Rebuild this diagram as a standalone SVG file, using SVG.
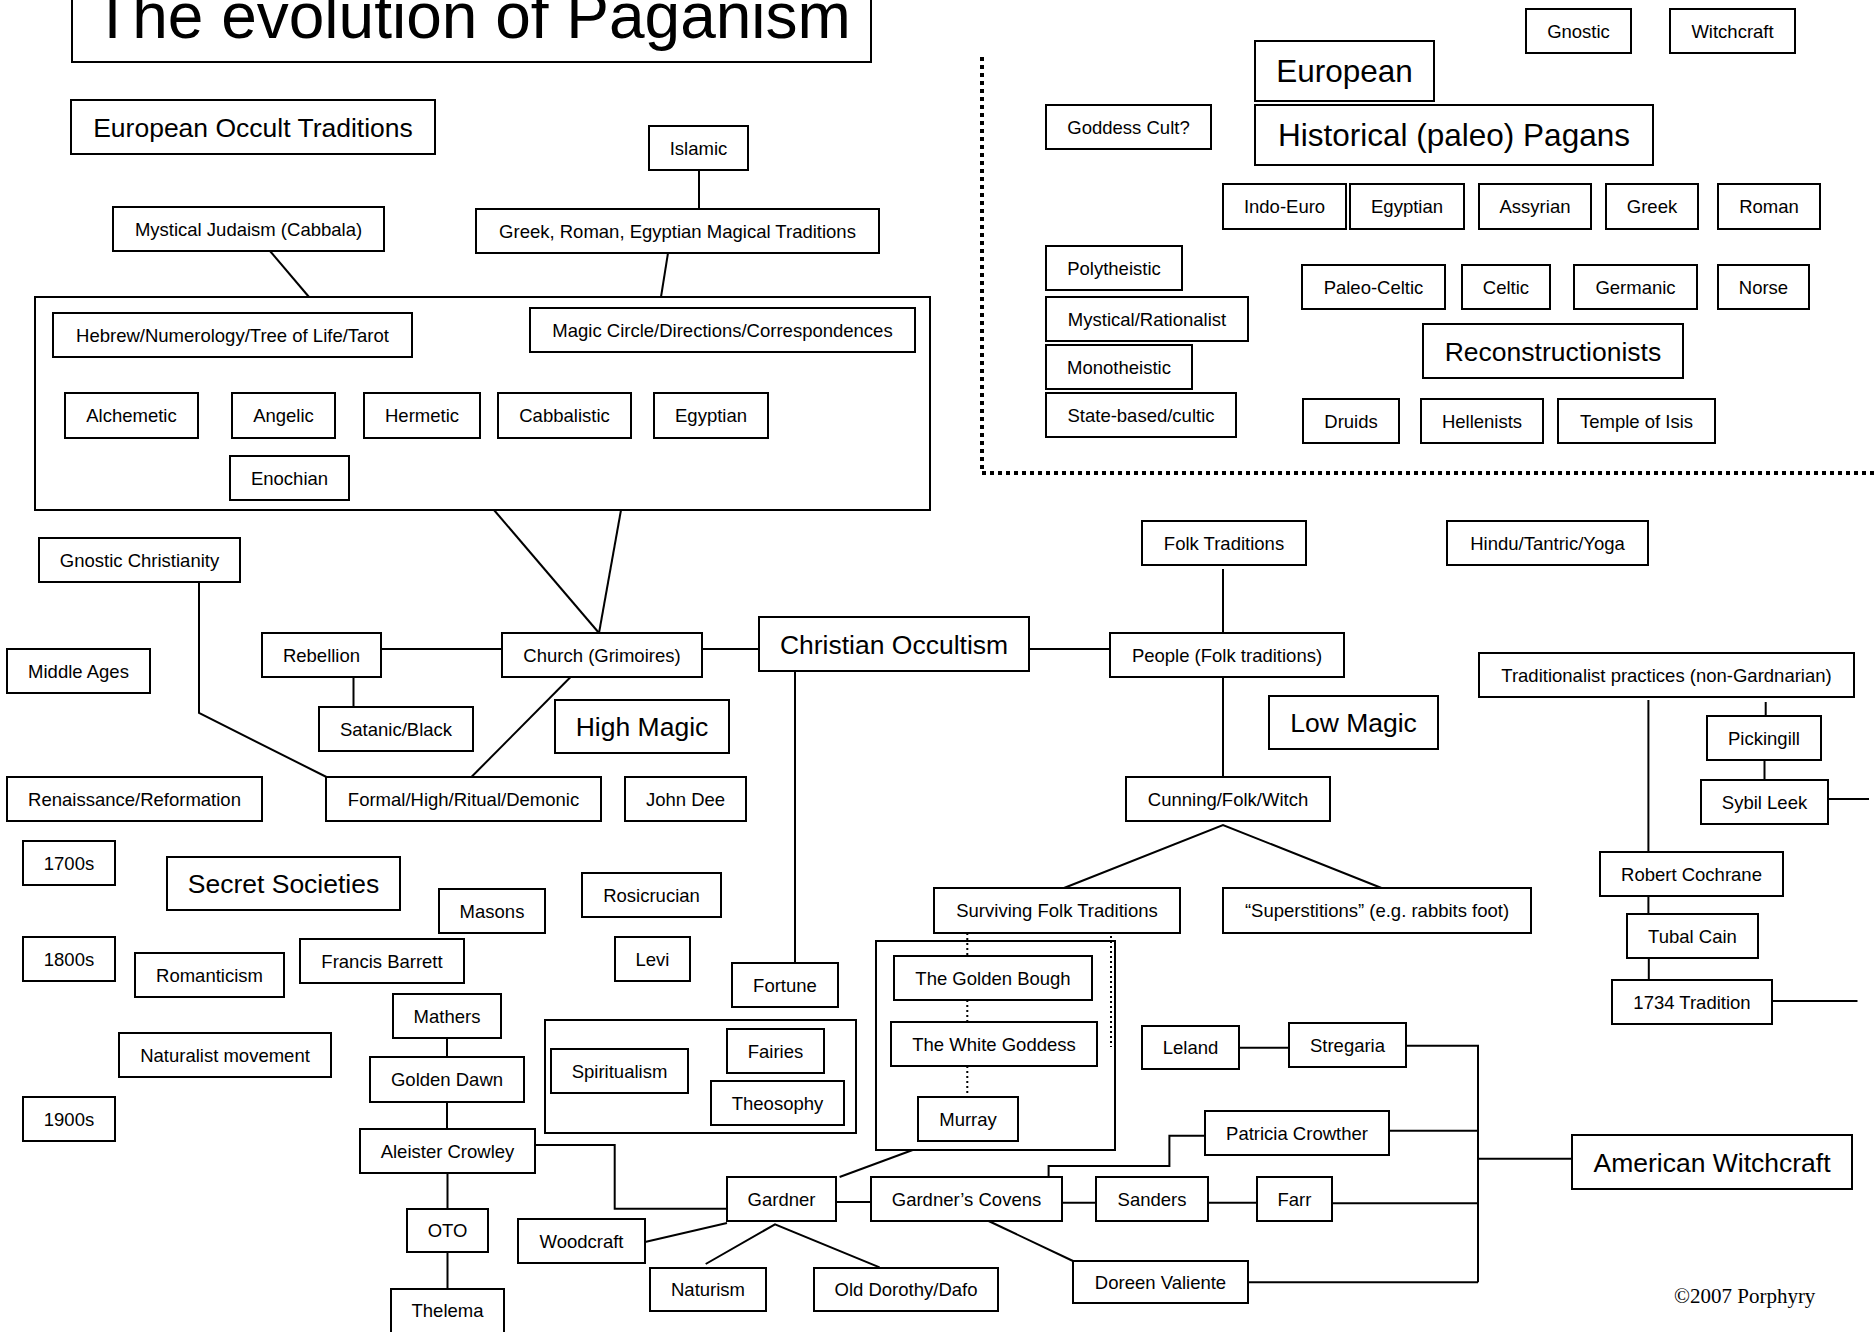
<svg xmlns="http://www.w3.org/2000/svg" width="1874" height="1332" viewBox="0 0 1874 1332">
<style>
.b{fill:#fff;stroke:#000;stroke-width:2}
.ct{fill:none;stroke:#000;stroke-width:2}
text{font-family:"Liberation Sans",Arial,sans-serif;fill:#000;text-anchor:middle}
.s{font-size:18.5px}
.m{font-size:26.5px}
.l{font-size:31.5px}
.c{fill:none;stroke:#000;stroke-width:2}
.dot{fill:none;stroke:#000;stroke-width:4;stroke-dasharray:4 4}
.dot2{fill:none;stroke:#000;stroke-width:2;stroke-dasharray:2 3}
</style>
<rect x="0" y="0" width="1874" height="1332" fill="#fff"/>
<path class="dot" d="M982,57 V473 H1874"/>
<g id="connectors">
<path class="c" d="M699,170 V209"/>
<path class="c" d="M668,253 L661,297"/>
<path class="c" d="M270,251 L309,297"/>
<path class="c" d="M494,510 L599,633"/>
<path class="c" d="M621,510 L599,633"/>
<path class="c" d="M381,649 H502"/>
<path class="c" d="M353.5,677 V707"/>
<path class="c" d="M199,582 V713 L326.5,777"/>
<path class="c" d="M570.6,677 L471.4,777"/>
<path class="c" d="M702,649 H759"/>
<path class="c" d="M1029,649 H1110"/>
<path class="c" d="M1223,569 V633"/>
<path class="c" d="M1223,677 V777"/>
<path class="c" d="M795,671 V963"/>
<path class="c" d="M1064,888 L1223,825 L1381.5,888"/>
<path class="c" d="M1648.4,700 V852"/>
<path class="c" d="M1765.7,702 V716"/>
<path class="c" d="M1764.5,760 V780"/>
<path class="c" d="M1828,799 H1869"/>
<path class="c" d="M1648.4,896 V914"/>
<path class="c" d="M1648.8,958 V980"/>
<path class="c" d="M1772,1001 H1857.5"/>
<path class="c" d="M447,1038 V1057"/>
<path class="c" d="M447,1102 V1129"/>
<path class="c" d="M535.5,1145 H614.7 V1208.7 H727"/>
<path class="c" d="M447.5,1173 V1209"/>
<path class="c" d="M447.5,1252 V1289"/>
<path class="c" d="M645,1242 L727,1223"/>
<path class="c" d="M912.7,1150 L839.6,1177"/>
<path class="c" d="M836,1202 H871"/>
<path class="c" d="M1062,1202.7 H1096"/>
<path class="c" d="M1208,1202.7 H1257"/>
<path class="c" d="M1048.6,1177 V1166 H1169.4 V1135.7 H1205"/>
<path class="c" d="M988.6,1221 L1073,1261"/>
<path class="c" d="M705.7,1264 L775,1224.3 L879.6,1267.3"/>
<path class="c" d="M1239,1047.7 H1289"/>
<path class="c" d="M1406,1045.7 H1478 V1282.3"/>
<path class="c" d="M1389,1130.7 H1478"/>
<path class="c" d="M1478,1158.7 H1572"/>
<path class="c" d="M1332,1203.3 H1478"/>
<path class="c" d="M1248,1282.3 H1478"/>
<path class="dot2" d="M967.3,933 V956 M967.3,1000 V1022 M967.3,1066 V1097"/>
<path class="dot2" d="M1111,936 V1047"/>
</g>
<g id="title"><rect class="b" x="72" y="-10" width="799" height="72"/><text x="472" y="38" style="font-size:64px">The evolution of Paganism</text></g>
<g id="eot"><rect class="b" x="71" y="100" width="364" height="54"/><text class="m" x="253" y="136.5">European Occult Traditions</text></g>
<g id="mystical"><rect class="b" x="113" y="207" width="271" height="44"/><text class="s" x="248.5" y="235.5">Mystical Judaism (Cabbala)</text></g>
<g id="greek"><rect class="b" x="476" y="209" width="403" height="44"/><text class="s" x="677.5" y="237.5">Greek, Roman, Egyptian Magical Traditions</text></g>
<g id="islamic"><rect class="b" x="649" y="126" width="99" height="44"/><text class="s" x="698.5" y="154.5">Islamic</text></g>
<g id="bigbox"><rect class="b" x="35" y="297" width="895" height="213"/></g>
<g id="hebrew"><rect class="b" x="53" y="313" width="359" height="44"/><text class="s" x="232.5" y="341.5">Hebrew/Numerology/Tree of Life/Tarot</text></g>
<g id="magic"><rect class="b" x="530" y="308" width="385" height="44"/><text class="s" x="722.5" y="336.5">Magic Circle/Directions/Correspondences</text></g>
<g id="alchemetic"><rect class="b" x="65" y="393" width="133" height="45"/><text class="s" x="131.5" y="422">Alchemetic</text></g>
<g id="angelic"><rect class="b" x="232" y="393" width="103" height="45"/><text class="s" x="283.5" y="422">Angelic</text></g>
<g id="hermetic"><rect class="b" x="364" y="393" width="116" height="45"/><text class="s" x="422" y="422">Hermetic</text></g>
<g id="cabbalistic"><rect class="b" x="498" y="393" width="133" height="45"/><text class="s" x="564.5" y="422">Cabbalistic</text></g>
<g id="egyptian1"><rect class="b" x="654" y="393" width="114" height="45"/><text class="s" x="711" y="422">Egyptian</text></g>
<g id="enochian"><rect class="b" x="230" y="456" width="119" height="44"/><text class="s" x="289.5" y="484.5">Enochian</text></g>
<g id="goddess"><rect class="b" x="1046" y="105" width="165" height="44"/><text class="s" x="1128.5" y="133.5">Goddess Cult?</text></g>
<g id="poly"><rect class="b" x="1046" y="246" width="136" height="44"/><text class="s" x="1114" y="274.5">Polytheistic</text></g>
<g id="mystrat"><rect class="b" x="1046" y="297" width="202" height="44"/><text class="s" x="1147" y="325.5">Mystical/Rationalist</text></g>
<g id="mono"><rect class="b" x="1046" y="345" width="146" height="44"/><text class="s" x="1119" y="373.5">Monotheistic</text></g>
<g id="state"><rect class="b" x="1046" y="393" width="190" height="44"/><text class="s" x="1141" y="421.5">State-based/cultic</text></g>
<g id="gnostic"><rect class="b" x="1526" y="9" width="105" height="44"/><text class="s" x="1578.5" y="37.5">Gnostic</text></g>
<g id="witchcraft"><rect class="b" x="1670" y="9" width="125" height="44"/><text class="s" x="1732.5" y="37.5">Witchcraft</text></g>
<g id="european"><rect class="b" x="1255" y="41" width="179" height="60"/><text class="l" x="1344.5" y="82">European</text></g>
<g id="historical"><rect class="b" x="1255" y="105" width="398" height="60"/><text class="l" x="1454" y="146">Historical (paleo) Pagans</text></g>
<g id="indoeuro"><rect class="b" x="1223" y="184" width="123" height="45"/><text class="s" x="1284.5" y="213">Indo-Euro</text></g>
<g id="egyptian2"><rect class="b" x="1350" y="184" width="114" height="45"/><text class="s" x="1407" y="213">Egyptian</text></g>
<g id="assyrian"><rect class="b" x="1479" y="184" width="112" height="45"/><text class="s" x="1535" y="213">Assyrian</text></g>
<g id="greek2"><rect class="b" x="1606" y="184" width="92" height="45"/><text class="s" x="1652" y="213">Greek</text></g>
<g id="roman"><rect class="b" x="1718" y="184" width="102" height="45"/><text class="s" x="1769" y="213">Roman</text></g>
<g id="paleoceltic"><rect class="b" x="1302" y="265" width="143" height="44"/><text class="s" x="1373.5" y="293.5">Paleo-Celtic</text></g>
<g id="celtic"><rect class="b" x="1462" y="265" width="88" height="44"/><text class="s" x="1506" y="293.5">Celtic</text></g>
<g id="germanic"><rect class="b" x="1574" y="265" width="123" height="44"/><text class="s" x="1635.5" y="293.5">Germanic</text></g>
<g id="norse"><rect class="b" x="1718" y="265" width="91" height="44"/><text class="s" x="1763.5" y="293.5">Norse</text></g>
<g id="recon"><rect class="b" x="1423" y="324" width="260" height="54"/><text class="m" x="1553" y="360.5">Reconstructionists</text></g>
<g id="druids"><rect class="b" x="1303" y="399" width="96" height="44"/><text class="s" x="1351" y="427.5">Druids</text></g>
<g id="hellenists"><rect class="b" x="1421" y="399" width="122" height="44"/><text class="s" x="1482" y="427.5">Hellenists</text></g>
<g id="isis"><rect class="b" x="1558" y="399" width="157" height="44"/><text class="s" x="1636.5" y="427.5">Temple of Isis</text></g>
<g id="gnchr"><rect class="b" x="39" y="538" width="201" height="44"/><text class="s" x="139.5" y="566.5">Gnostic Christianity</text></g>
<g id="middle"><rect class="b" x="7" y="649" width="143" height="44"/><text class="s" x="78.5" y="677.5">Middle Ages</text></g>
<g id="rebellion"><rect class="b" x="262" y="633" width="119" height="44"/><text class="s" x="321.5" y="661.5">Rebellion</text></g>
<g id="church"><rect class="b" x="502" y="633" width="200" height="44"/><text class="s" x="602" y="661.5">Church (Grimoires)</text></g>
<g id="satanic"><rect class="b" x="319" y="707" width="154" height="44"/><text class="s" x="396" y="735.5">Satanic/Black</text></g>
<g id="formal"><rect class="b" x="326" y="777" width="275" height="44"/><text class="s" x="463.5" y="805.5">Formal/High/Ritual/Demonic</text></g>
<g id="highmagic"><rect class="b" x="555" y="700" width="174" height="53"/><text class="m" x="642" y="736">High Magic</text></g>
<g id="renaissance"><rect class="b" x="7" y="777" width="255" height="44"/><text class="s" x="134.5" y="805.5">Renaissance/Reformation</text></g>
<g id="johndee"><rect class="b" x="625" y="777" width="121" height="44"/><text class="s" x="685.5" y="805.5">John Dee</text></g>
<g id="c1700s"><rect class="b" x="23" y="841" width="92" height="44"/><text class="s" x="69" y="869.5">1700s</text></g>
<g id="secret"><rect class="b" x="167" y="857" width="233" height="53"/><text class="m" x="283.5" y="893">Secret Societies</text></g>
<g id="masons"><rect class="b" x="439" y="889" width="106" height="44"/><text class="s" x="492" y="917.5">Masons</text></g>
<g id="rosicrucian"><rect class="b" x="582" y="873" width="139" height="44"/><text class="s" x="651.5" y="901.5">Rosicrucian</text></g>
<g id="christian"><rect class="b" x="759" y="617" width="270" height="54"/><text class="m" x="894" y="653.5">Christian Occultism</text></g>
<g id="folk"><rect class="b" x="1142" y="521" width="164" height="44"/><text class="s" x="1224" y="549.5">Folk Traditions</text></g>
<g id="people"><rect class="b" x="1110" y="633" width="234" height="44"/><text class="s" x="1227" y="661.5">People (Folk traditions)</text></g>
<g id="cunning"><rect class="b" x="1126" y="777" width="204" height="44"/><text class="s" x="1228" y="805.5">Cunning/Folk/Witch</text></g>
<g id="surviving"><rect class="b" x="934" y="888" width="246" height="45"/><text class="s" x="1057" y="917">Surviving Folk Traditions</text></g>
<g id="superstitions"><rect class="b" x="1223" y="888" width="308" height="45"/><text class="s" x="1377" y="917">“Superstitions” (e.g. rabbits foot)</text></g>
<g id="lowmagic"><rect class="b" x="1269" y="696" width="169" height="53"/><text class="m" x="1353.5" y="732">Low Magic</text></g>
<g id="hindu"><rect class="b" x="1447" y="521" width="201" height="44"/><text class="s" x="1547.5" y="549.5">Hindu/Tantric/Yoga</text></g>
<g id="trad"><rect class="b" x="1479" y="653" width="375" height="44"/><text class="s" x="1666.5" y="681.5">Traditionalist practices (non-Gardnarian)</text></g>
<g id="pickingill"><rect class="b" x="1707" y="716" width="114" height="44"/><text class="s" x="1764" y="744.5">Pickingill</text></g>
<g id="sybil"><rect class="b" x="1701" y="780" width="127" height="44"/><text class="s" x="1764.5" y="808.5">Sybil Leek</text></g>
<g id="robert"><rect class="b" x="1600" y="852" width="183" height="44"/><text class="s" x="1691.5" y="880.5">Robert Cochrane</text></g>
<g id="tubal"><rect class="b" x="1627" y="914" width="131" height="44"/><text class="s" x="1692.5" y="942.5">Tubal Cain</text></g>
<g id="t1734"><rect class="b" x="1612" y="980" width="160" height="44"/><text class="s" x="1692" y="1008.5">1734 Tradition</text></g>
<g id="c1800s"><rect class="b" x="23" y="937" width="92" height="44"/><text class="s" x="69" y="965.5">1800s</text></g>
<g id="romanticism"><rect class="b" x="135" y="953" width="149" height="44"/><text class="s" x="209.5" y="981.5">Romanticism</text></g>
<g id="barrett"><rect class="b" x="300" y="939" width="164" height="44"/><text class="s" x="382" y="967.5">Francis Barrett</text></g>
<g id="mathers"><rect class="b" x="393" y="994" width="108" height="44"/><text class="s" x="447" y="1022.5">Mathers</text></g>
<g id="naturalist"><rect class="b" x="119" y="1033" width="212" height="44"/><text class="s" x="225" y="1061.5">Naturalist movement</text></g>
<g id="goldendawn"><rect class="b" x="370" y="1057" width="154" height="45"/><text class="s" x="447" y="1086">Golden Dawn</text></g>
<g id="c1900s"><rect class="b" x="23" y="1097" width="92" height="44"/><text class="s" x="69" y="1125.5">1900s</text></g>
<g id="crowley"><rect class="b" x="360" y="1129" width="175" height="44"/><text class="s" x="447.5" y="1157.5">Aleister Crowley</text></g>
<g id="oto"><rect class="b" x="407" y="1209" width="81" height="43"/><text class="s" x="447.5" y="1237">OTO</text></g>
<g id="thelema"><rect class="b" x="391" y="1289" width="113" height="45"/><text class="s" x="447.5" y="1316.5">Thelema</text></g>
<g id="woodcraft"><rect class="b" x="518" y="1219" width="127" height="44"/><text class="s" x="581.5" y="1247.5">Woodcraft</text></g>
<g id="spiritcontainer"><rect class="b" x="545" y="1020" width="311" height="113"/></g>
<g id="spiritualism"><rect class="b" x="551" y="1049" width="137" height="44"/><text class="s" x="619.5" y="1077.5">Spiritualism</text></g>
<g id="fairies"><rect class="b" x="727" y="1029" width="97" height="44"/><text class="s" x="775.5" y="1057.5">Fairies</text></g>
<g id="theosophy"><rect class="b" x="711" y="1081" width="133" height="44"/><text class="s" x="777.5" y="1109.5">Theosophy</text></g>
<g id="levi"><rect class="b" x="615" y="937" width="75" height="44"/><text class="s" x="652.5" y="965.5">Levi</text></g>
<g id="fortune"><rect class="b" x="732" y="963" width="106" height="44"/><text class="s" x="785" y="991.5">Fortune</text></g>
<g id="murraycontainer"><rect class="ct" x="876" y="941" width="239" height="209"/></g>
<g id="goldenbough"><rect class="b" x="894" y="956" width="198" height="44"/><text class="s" x="993" y="984.5">The Golden Bough</text></g>
<g id="whitegoddess"><rect class="b" x="891" y="1022" width="206" height="44"/><text class="s" x="994" y="1050.5">The White Goddess</text></g>
<g id="murray"><rect class="b" x="918" y="1097" width="100" height="44"/><text class="s" x="968" y="1125.5">Murray</text></g>
<g id="gardner"><rect class="b" x="727" y="1177" width="109" height="44"/><text class="s" x="781.5" y="1205.5">Gardner</text></g>
<g id="covens"><rect class="b" x="871" y="1177" width="191" height="44"/><text class="s" x="966.5" y="1205.5">Gardner’s Covens</text></g>
<g id="sanders"><rect class="b" x="1096" y="1177" width="112" height="44"/><text class="s" x="1152" y="1205.5">Sanders</text></g>
<g id="farr"><rect class="b" x="1257" y="1177" width="75" height="44"/><text class="s" x="1294.5" y="1205.5">Farr</text></g>
<g id="patricia"><rect class="b" x="1205" y="1111" width="184" height="44"/><text class="s" x="1297" y="1139.5">Patricia Crowther</text></g>
<g id="doreen"><rect class="b" x="1073" y="1261" width="175" height="42"/><text class="s" x="1160.5" y="1288.5">Doreen Valiente</text></g>
<g id="naturism"><rect class="b" x="650" y="1268" width="116" height="43"/><text class="s" x="708" y="1296">Naturism</text></g>
<g id="olddorothy"><rect class="b" x="814" y="1268" width="184" height="43"/><text class="s" x="906" y="1296">Old Dorothy/Dafo</text></g>
<g id="leland"><rect class="b" x="1142" y="1026" width="97" height="43"/><text class="s" x="1190.5" y="1054">Leland</text></g>
<g id="stregaria"><rect class="b" x="1289" y="1023" width="117" height="44"/><text class="s" x="1347.5" y="1051.5">Stregaria</text></g>
<g id="american"><rect class="b" x="1572" y="1135" width="280" height="54"/><text class="m" x="1712" y="1171.5">American Witchcraft</text></g>
<text x="1674" y="1303" style="font-family:'Liberation Serif','Times New Roman',serif;font-size:21px;text-anchor:start">©2007 Porphyry</text>
</svg>
